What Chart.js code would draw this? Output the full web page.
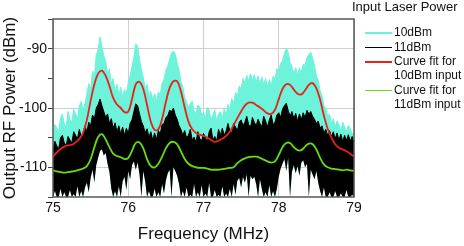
<!DOCTYPE html>
<html>
<head>
<meta charset="utf-8">
<script src="https://cdn.jsdelivr.net/npm/chart.js@4.4.1/dist/chart.umd.min.js"></script>
<style>
  body { margin: 0; background: #fff; }
  #wrap { position: relative; width: 464px; height: 246px; font-family: "Liberation Sans", Arial, sans-serif; }
  #legend-title { position: absolute; left: 352px; top: -1px; font-size: 13px; line-height: 15.6px; color: #111; white-space: nowrap; }
  .row { position: absolute; left: 365px; height: 14.4px; font-size: 12px; line-height: 14.4px; color: #111; white-space: nowrap; }
  .row .swatch { display: inline-block; width: 27px; height: 1.5px; vertical-align: middle; margin-right: 2px; }
  .row.cont { left: 394px; }
</style>
</head>
<body>
<div id="wrap">
  <canvas id="chart"></canvas>
  <div id="legend-title">Input Laser Power</div>
  <div class="row" style="top:25.3px"><span class="swatch" style="background:#6cf3da"></span>10dBm</div>
  <div class="row" style="top:39.6px"><span class="swatch" style="background:#000"></span>11dBm</div>
  <div class="row" style="top:54px"><span class="swatch" style="background:#e8211b"></span>Curve fit for</div>
  <div class="row cont" style="top:68.3px">10dBm input</div>
  <div class="row" style="top:82.8px"><span class="swatch" style="background:#66dd11"></span>Curve fit for</div>
  <div class="row cont" style="top:97.1px">11dBm input</div>
</div>
<script>
// measured spectra, 0.025 MHz step from 75 to 79 MHz (161 points)
const freq = Array.from({ length: 161 }, (_, i) => +(75 + i * 0.025).toFixed(3));

// 10dBm trace, upper envelope (dBm)
const cyanTop = [
  -104.5, -102.8, -103.3, -104.0, -101.6, -101.0, -102.7, -103.2, -100.6, -101.9,
  -102.4, -100.2, -100.9, -101.8, -99.6, -98.9, -100.4, -99.2, -97.6, -95.9,
  -96.8, -93.8, -94.6, -91.0, -90.2, -88.0, -89.6, -91.2, -92.0, -94.3,
  -93.4, -95.9, -95.0, -97.2, -96.0, -97.8, -96.5, -98.1, -96.9, -97.6,
  -95.8, -94.6, -93.0, -91.5, -89.2, -89.6, -91.8, -93.6, -94.8, -96.7,
  -96.0, -98.0, -97.2, -98.6, -97.6, -98.9, -97.3, -97.8, -95.8, -95.2,
  -93.6, -92.9, -91.8, -90.7, -90.4, -90.9, -92.4, -93.6, -95.6, -96.4,
  -98.2, -98.9, -100.0, -99.3, -98.8, -100.6, -100.9, -99.5, -99.8, -101.1,
  -100.8, -101.6, -99.9, -100.4, -101.9, -101.2, -100.3, -102.3, -101.0, -100.6,
  -101.7, -100.2, -101.2, -99.4, -100.3, -98.4, -99.2, -97.4, -98.0, -96.3,
  -96.8, -95.0, -95.8, -94.5, -95.4, -94.2, -95.3, -94.4, -95.6, -94.6,
  -95.9, -94.8, -96.1, -95.0, -96.4, -95.2, -96.3, -94.6, -95.1, -93.4,
  -93.8, -92.5, -92.0, -90.8, -89.9, -90.6, -92.3, -93.0, -94.2, -93.2,
  -94.4, -93.3, -94.0, -92.6, -92.8, -91.5, -91.0, -90.6, -91.6, -92.8,
  -94.6, -95.3, -97.1, -97.9, -99.6, -100.0, -101.4, -101.0, -102.6, -101.8,
  -103.2, -102.2, -102.8, -103.9, -102.4, -103.1, -104.1, -102.9, -103.5, -104.3,
  -104.4
];

// 11dBm trace, upper envelope
const blackTop = [
  -107.0, -105.6, -106.4, -106.9, -105.0, -104.6, -105.9, -106.3, -104.8, -105.4,
  -105.9, -104.0, -104.6, -105.2, -103.6, -104.9, -104.2, -103.0, -104.0, -102.4,
  -103.0, -101.2, -101.8, -100.0, -99.4, -98.5, -99.6, -100.6, -101.6, -101.0,
  -102.6, -101.8, -103.4, -102.5, -104.0, -103.0, -104.4, -103.2, -104.6, -103.4,
  -104.2, -102.6, -102.0, -100.6, -99.3, -99.6, -101.0, -102.3, -103.0, -104.2,
  -103.5, -104.9, -104.0, -105.4, -104.2, -105.3, -103.8, -104.4, -102.8, -102.6,
  -101.6, -101.3, -100.4, -100.6, -100.0, -101.2, -101.9, -103.0, -103.6, -104.6,
  -103.8, -105.0, -104.6, -103.6, -105.4, -104.9, -105.8, -104.0, -105.2, -105.5,
  -104.3, -104.9, -105.8, -104.0, -103.4, -105.4, -104.8, -105.6, -103.6, -104.6,
  -103.4, -104.6, -103.9, -102.6, -103.8, -104.2, -102.6, -103.2, -103.8, -102.4,
  -102.0, -103.0, -102.4, -101.4, -102.8, -103.2, -101.6, -102.4, -103.0, -101.9,
  -102.6, -103.2, -101.4, -102.2, -103.2, -102.0, -101.2, -102.8, -102.4, -101.2,
  -100.8, -101.6, -100.2, -99.6, -99.2, -100.4, -101.4, -100.6, -101.8, -100.9,
  -102.2, -101.0, -102.0, -100.8, -101.6, -100.4, -101.0, -100.6, -101.4, -101.9,
  -102.6, -102.2, -103.4, -103.0, -104.2, -103.6, -104.6, -103.8, -104.8, -104.0,
  -105.2, -104.2, -105.4, -104.4, -105.6, -104.6, -105.5, -104.5, -105.6, -104.8,
  -105.8
];

// 11dBm trace, lower envelope (both traces reach down to it)
const blackLow = [
  -115, -114, -115, -115, -113.6, -115, -114.2, -115, -115, -113.8,
  -115, -114.5, -115, -113.2, -115, -114, -115, -113.4, -112.6, -114.2,
  -111.8, -110.4, -112.5, -109.6, -108.4, -107.2, -107.0, -108.0, -107.6, -109.4,
  -110.8, -113.6, -115, -114.0, -115, -113.2, -115, -112.4, -111.6, -113.8,
  -110.6, -112.0, -109.6, -109.0, -110.4, -109.2, -111.2, -115, -110.6, -112.4,
  -115, -114.0, -115, -115, -113.6, -115, -114.2, -115, -112.8, -114.4,
  -112.2, -111.0, -110.4, -115, -110.0, -110.6, -111.4, -112.8, -115, -114.0,
  -115, -113.4, -115, -114.6, -115, -112.8, -115, -114.2, -115, -113.0,
  -115, -114.4, -115, -112.6, -115, -115, -113.8, -115, -114.6, -115,
  -113.2, -115, -114.4, -115, -113.6, -115, -112.8, -114.6, -112.2, -111.8,
  -113.4, -111.6, -112.6, -111.2, -115, -111.4, -112.0, -111.6, -112.8, -115,
  -112.0, -113.6, -115, -114.2, -115, -113.0, -115, -114.0, -115, -113.6,
  -111.6, -110.2, -109.4, -108.6, -110.6, -108.4, -115, -110.8, -109.6, -111.0,
  -109.8, -111.4, -109.2, -108.8, -110.0, -109.4, -115, -110.4, -111.2, -112.0,
  -110.6, -112.6, -114.0, -115, -113.4, -115, -115, -114.2, -115, -115,
  -114.0, -115, -115, -114.4, -115, -115, -113.8, -115, -115, -114.6,
  -115
];

// curve fits, 0.05 MHz step (81 points)
const fitFreq = Array.from({ length: 81 }, (_, i) => +(75 + i * 0.05).toFixed(2));

const fit10 = [
  -108.2, -107.5, -106.9, -106.5, -106.3, -106.2, -105.8, -105.2, -104.2, -102.0,
  -98.8, -96.0, -94.2, -93.7, -94.6, -96.3, -98.3, -99.4, -100.0, -100.7,
  -100.6, -98.5, -96.0, -95.6, -96.8, -99.5, -102.3, -103.7, -103.6, -101.8,
  -99.0, -96.6, -95.5, -95.5, -97.2, -99.9, -102.3, -103.6, -104.2, -104.5,
  -104.7, -105.0, -105.4, -105.7, -105.5, -105.2, -104.7, -104.0, -102.9, -101.7,
  -100.6, -99.6, -99.1, -99.1, -99.5, -99.9, -100.4, -100.9, -101.0, -100.3,
  -98.5, -96.8, -96.0, -96.1, -96.9, -97.6, -97.7, -97.0, -96.1, -95.8,
  -96.7, -98.6, -101.3, -103.5, -105.0, -106.1, -106.7, -107.0, -107.3, -107.7,
  -108.2
];

const fit11 = [
  -110.5, -110.7, -110.8, -110.9, -110.8, -110.7, -110.6, -110.4, -110.2, -109.8,
  -108.6, -106.6, -104.9, -104.4, -105.3, -106.6, -107.7, -108.1, -108.3, -108.6,
  -108.4, -107.2, -105.9, -105.8, -106.8, -108.6, -109.8, -110.0, -109.4, -108.2,
  -106.8, -105.9, -105.7, -106.1, -107.3, -108.6, -109.4, -109.8, -110.0, -110.1,
  -110.1, -110.2, -110.4, -110.4, -110.4, -110.3, -110.2, -110.1, -110.0, -109.3,
  -108.8, -108.5, -108.3, -108.2, -108.2, -108.4, -108.7, -109.0, -109.2, -109.0,
  -107.9, -106.6, -105.9, -105.9, -106.6, -107.1, -107.1, -106.5, -106.0, -106.1,
  -107.0, -108.4, -109.5, -110.0, -110.2, -110.3, -110.4, -110.5, -110.4, -110.5,
  -110.6
];

const yTicksMajor = [-90, -100, -110];

function pts(xs, ys) {
  return xs.map((x, i) => ({ x: x, y: ys[i] }));
}

const frame = {
  id: 'frame',
  afterDatasetsDraw(chart) {
    const a = chart.chartArea;
    const c = chart.ctx;
    c.save();
    c.strokeStyle = '#555';
    c.lineWidth = 1.5;
    c.strokeRect(a.left, a.top, a.right - a.left, a.bottom - a.top);
    c.restore();
  }
};

Chart.defaults.font.family = '"Liberation Sans", Arial, sans-serif';
Chart.defaults.color = '#111';

new Chart(document.getElementById('chart').getContext('2d'), {
  type: 'line',
  data: {
    datasets: [
      {
        label: '10dBm',
        data: pts(freq, cyanTop),
        borderColor: '#6cf3da',
        backgroundColor: '#6cf3da',
        borderWidth: 1,
        fill: 4,
        order: 3
      },
      {
        label: '11dBm',
        data: pts(freq, blackTop),
        borderColor: '#000',
        backgroundColor: '#000',
        borderWidth: 1,
        fill: 4,
        order: 2
      },
      {
        label: 'Curve fit for 10dBm input',
        data: pts(fitFreq, fit10),
        borderColor: '#e8211b',
        borderWidth: 1.8,
        tension: 0.4,
        fill: false,
        order: 0
      },
      {
        label: 'Curve fit for 11dBm input',
        data: pts(fitFreq, fit11),
        borderColor: '#66dd11',
        borderWidth: 1.8,
        tension: 0.4,
        fill: false,
        order: 1
      },
      {
        label: 'low',
        data: pts(freq, blackLow),
        borderColor: '#000',
        borderWidth: 0,
        fill: false,
        order: 4
      }
    ]
  },
  options: {
    responsive: true,
    maintainAspectRatio: false,
    animation: false,
    events: [],
    elements: { point: { radius: 0 }, line: { tension: 0 } },
    layout: { padding: { top: 19, right: 110, left: 0, bottom: 0 } },
    plugins: { legend: { display: false }, tooltip: { enabled: false } },
    scales: {
      x: {
        type: 'linear',
        min: 75,
        max: 79,
        afterFit: s => { s.height = 49; },
        border: { display: false },
        grid: {
          color: '#cfcfcf',
          borderDash: [2, 2],
          drawTicks: false
        },
        ticks: { stepSize: 1, padding: 3, font: { size: 14 }, color: '#111' },
        title: {
          display: true,
          text: 'Frequency (MHz)',
          font: { size: 17 },
          color: '#111',
          padding: { top: 0, bottom: 1 }
        }
      },
      y: {
        min: -115,
        max: -85,
        afterFit: s => { s.width = 53; },
        border: { display: false },
        grid: {
          color: c => yTicksMajor.includes(c.tick.value) ? '#cfcfcf' : 'rgba(0,0,0,0)',
          borderDash: [2, 2],
          tickColor: '#444',
          tickBorderDash: [],
          tickLength: 5
        },
        ticks: {
          stepSize: 5,
          padding: 1,
          font: { size: 14 },
          color: '#111',
          callback: v => yTicksMajor.includes(v) ? String(v) : ''
        },
        title: {
          display: true,
          text: 'Output RF Power (dBm)',
          font: { size: 17 },
          color: '#111',
          padding: { top: 0, bottom: 0 }
        }
      }
    }
  },
  plugins: [frame]
});
</script>
</body>
</html>
